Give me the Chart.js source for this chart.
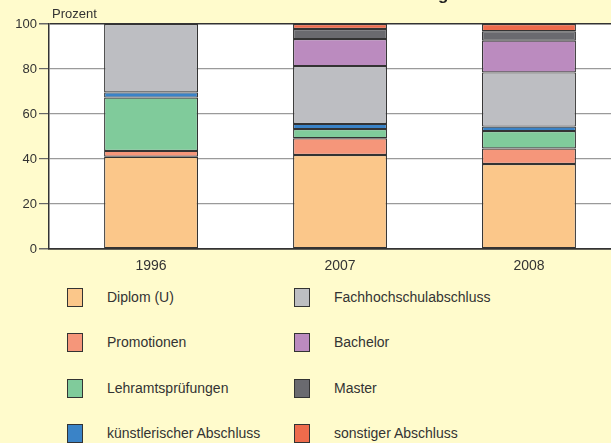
<!DOCTYPE html>
<html>
<head>
<meta charset="utf-8">
<script src="https://cdn.jsdelivr.net/npm/chart.js@4"></script>
<style>
  html, body { margin: 0; padding: 0; background: #fffbcc; }
  body { width: 611px; height: 443px; overflow: hidden; position: relative; font-family: "Liberation Sans", Arial, sans-serif; }
  #wrap { position: absolute; left: 0; top: 0; width: 611px; height: 280px; }
  .lg { position: absolute; font-size: 14px; color: #333; line-height: 19px; white-space: nowrap; }
  .lg span.box { position: absolute; left: 0; top: 0; width: 14px; height: 17px; border: 1px solid #333; }
  .lg span.txt { position: absolute; left: 40px; top: 0; }
</style>
</head>
<body>
<div id="wrap"><canvas id="chart"></canvas></div>
<div id="legend"></div>
<script>
// Data (Prozent)
const years = ["1996", "2007", "2008"];
const seriesNames = ["Diplom (U)", "Promotionen", "Lehramtsprüfungen", "künstlerischer Abschluss",
                     "Fachhochschulabschluss", "Bachelor", "Master", "sonstiger Abschluss"];
const diplom      = [41.0, 41.8, 37.8];
const promotionen = [2.6, 7.4, 6.9];
const lehramt     = [23.7, 4.1, 7.7];
const kuenstler   = [2.3, 2.3, 2.0];
const fachhoch    = [30.4, 25.7, 24.1];
const bachelor    = [null, 12.0, 14.1];
const master      = [null, 4.5, 4.2];
const sonstige    = [null, 2.2, 3.2];
const yTicks = [0, 20, 40, 60, 80, 100];

const colors = ["#fbc78a", "#f5967a", "#80cb9b", "#3a83c7", "#bdbec2", "#bb8bbf", "#6a6a6f", "#ee6b4c"];
const allSeries = [diplom, promotionen, lehramt, kuenstler, fachhoch, bachelor, master, sonstige];

const datasets = allSeries.map((vals, i) => ({
    label: seriesNames[i],
    data: vals.map((v, j) => ({ x: j, y: v })),
    backgroundColor: colors[i],
    borderColor: "#333",
    borderWidth: 1.2,
    borderSkipped: false,
    barPercentage: 0.497,
    categoryPercentage: 1
}));

// white plot area + labels outside the axes
const decor = {
    id: "decor",
    beforeDraw(chart) {
        const { ctx, chartArea: a } = chart;
        ctx.save();
        ctx.fillStyle = "#ffffff";
        ctx.fillRect(a.left, a.top, a.right - a.left, a.bottom - a.top);
        ctx.restore();
    },
    afterDraw(chart) {
        const ctx = chart.ctx;
        ctx.save();
        ctx.fillStyle = "#222";
        ctx.font = "bold 17px 'Liberation Sans', Arial, sans-serif";
        ctx.textAlign = "center";
        ctx.textBaseline = "alphabetic";
        ctx.fillText("Absolventen nach Art der Prüfung", 310, -0.5);
        ctx.font = "13px 'Liberation Sans', Arial, sans-serif";
        ctx.textAlign = "left";
        ctx.fillStyle = "#333";
        ctx.fillText("Prozent", 52, 18);
        ctx.restore();
    }
};

new Chart(document.getElementById("chart"), {
    type: "bar",
    data: { datasets: datasets },
    options: {
        responsive: true,
        maintainAspectRatio: false,
        animation: false,
        layout: { padding: { top: 24, left: 0, right: 0, bottom: 0 } },
        plugins: {
            legend: { display: false },
            tooltip: { enabled: false }
        },
        scales: {
            x: {
                type: "linear",
                stacked: true,
                offset: false,
                min: -0.54,
                max: 2.434,
                afterBuildTicks: (scale) => { scale.ticks = years.map((_, i) => ({ value: i })); },
                afterFit: (scale) => { scale.height = 31; },
                ticks: {
                    callback: (v) => years[v],
                    color: "#333",
                    font: { size: 14, family: "'Liberation Sans', Arial, sans-serif" },
                    padding: 9
                },
                grid: { display: false, drawTicks: false },
                border: { color: "#333", width: 1.5 }
            },
            y: {
                stacked: true,
                min: 0,
                max: 100,
                afterBuildTicks: (scale) => { scale.ticks = yTicks.map(v => ({ value: v })); },
                afterFit: (scale) => { scale.width = 49; },
                ticks: {
                    color: "#333",
                    font: { size: 13, family: "'Liberation Sans', Arial, sans-serif" },
                    padding: 2
                },
                grid: {
                    color: (c) => (c.tick && (c.tick.value === 0 || c.tick.value === 100)) ? "#333" : "#9a9a9a",
                    lineWidth: (c) => (c.tick && (c.tick.value === 0 || c.tick.value === 100)) ? 1.5 : 1.2,
                    tickColor: "#666",
                    tickLength: 10
                },
                border: { color: "#333", width: 1.5 }
            }
        }
    },
    plugins: [decor]
});

// Legend, two columns
const legend = document.getElementById("legend");
seriesNames.forEach((name, i) => {
    const col = Math.floor(i / 4);
    const row = i % 4;
    const el = document.createElement("div");
    el.className = "lg";
    el.style.left = (col === 0 ? 67 : 294) + "px";
    el.style.top = (288 + row * 45.3) + "px";
    el.innerHTML = `<span class="box" style="background:${colors[i]}"></span><span class="txt">${name}</span>`;
    legend.appendChild(el);
});
</script>
</body>
</html>
